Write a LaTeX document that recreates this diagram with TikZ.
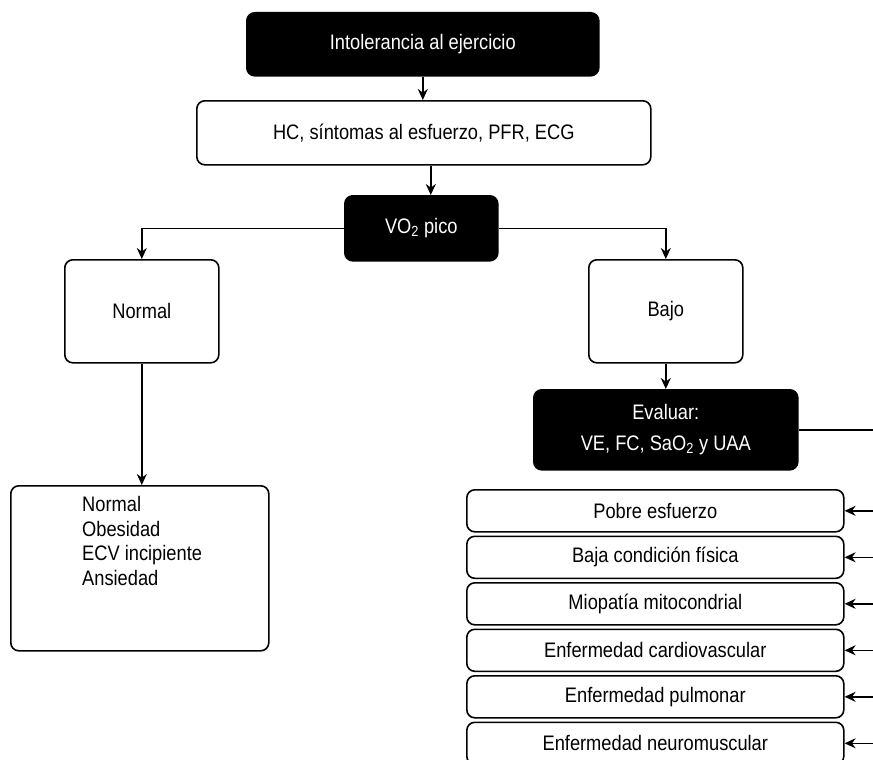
\documentclass[tikz,border=0pt]{standalone}
\usepackage{fontspec}
\setmainfont{Liberation Sans}[FakeStretch=0.87]
\usetikzlibrary{arrows.meta}
\begin{document}
\begin{tikzpicture}[x=1pt,y=-1pt,
  font=\fontsize{21}{24.5}\selectfont,
  box/.style={draw, line width=1.6pt, rounded corners=8pt, inner sep=0pt, anchor=north west, align=center},
  dark/.style={box, fill=black, text=white},
  arr/.style={-{Stealth[length=11pt,width=10pt]}, line width=1.6pt},
  ln/.style={line width=1.6pt}]
\useasboundingbox (0,0) rectangle (873,760);

\node[dark, minimum width=352pt, minimum height=63pt] (intol) at (246,12) {Intolerancia al ejercicio};
\node[box, minimum width=454pt, minimum height=64pt] (hc) at (196,100) {HC, síntomas al esfuerzo, PFR, ECG};
\node[dark, minimum width=153pt, minimum height=65pt] (vo) at (344,195) {VO\textsubscript{2} pico};
\node[box, minimum width=154pt, minimum height=103pt] (normal) at (64,259) {Normal};
\node[box, minimum width=154pt, minimum height=103pt] (bajo) at (588,259) {Bajo};
\node[dark, minimum width=264pt, minimum height=80pt] (eval) at (533,389) {Evaluar:\\[6pt]VE, FC, SaO\textsubscript{2} y UAA};
\node[box, minimum width=258pt, minimum height=165pt] (lbox) at (10,485) {};
\node[anchor=west, align=left, inner sep=0pt] (ltext) at (82,541) {Normal\\Obesidad\\ECV incipiente\\Ansiedad};

\node[box, minimum width=377pt, minimum height=42pt] (r1) at (466,489) {Pobre esfuerzo};
\node[box, minimum width=377pt, minimum height=42pt] (r2) at (466,535.5) {Baja condición física};
\node[box, minimum width=377pt, minimum height=42pt] (r3) at (466,582) {Miopatía mitocondrial};
\node[box, minimum width=377pt, minimum height=42pt] (r4) at (466,628.5) {Enfermedad cardiovascular};
\node[box, minimum width=377pt, minimum height=42pt] (r5) at (466,675) {Enfermedad pulmonar};
\node[box, minimum width=377pt, minimum height=42pt] (r6) at (466,721.5) {Enfermedad neuromuscular};

\coordinate (edge) at (873,428);

\draw[arr] (intol.south) -- (intol.south |- hc.north);
\draw[arr] ([xshift=9.5pt]vo.north |- hc.south) -- ([xshift=9.5pt]vo.north);
\draw[arr] (vo.west) -| (normal.north);
\draw[arr] (vo.east) -| (bajo.north);
\draw[arr] (normal.south) -- (normal.south |- lbox.north);
\draw[arr] (bajo.south) -- (bajo.south |- eval.north);
\draw[ln] (eval.east) -- (eval.east -| edge);
\foreach \r in {r1,r2,r3,r4,r5,r6}{
  \draw[arr] (\r.east -| edge) -- (\r.east);
}
\end{tikzpicture}
\end{document}
